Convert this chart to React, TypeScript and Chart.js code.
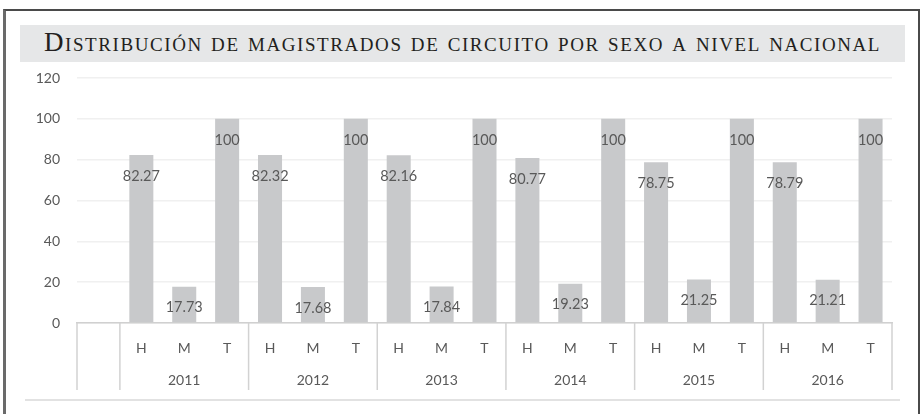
import React, { useEffect, useRef } from "react";
import { Chart, registerables } from "chart.js";

Chart.register(...registerables);

const title = "Distribución de magistrados de circuito por sexo a nivel nacional";
const years = ["2011", "2012", "2013", "2014", "2015", "2016"];
const sexes = ["H", "M", "T"];
const hombres = [82.27, 82.32, 82.16, 80.77, 78.75, 78.79];
const mujeres = [17.73, 17.68, 17.84, 19.23, 21.25, 21.21];
const total = [100, 100, 100, 100, 100, 100];
const yMin = 0;
const yMax = 120;
const yStep = 20;

const TEXT = "#595959";
const FONT = "Lato";

export default function App() {
  const ref = useRef<HTMLCanvasElement | null>(null);

  useEffect(() => {
    if (!ref.current) return;
    const labels: string[] = [""];
    const values: (number | null)[] = [null];
    years.forEach((_, i) => {
      sexes.forEach((s, j) => {
        labels.push(s);
        values.push(j === 0 ? hombres[i] : j === 1 ? mujeres[i] : total[i]);
      });
    });

    const groupPlugin = {
      id: "groups",
      afterDraw(chart: any) {
        const ctx = chart.ctx;
        const x = chart.scales.x;
        const area = chart.chartArea;
        const slot = x.getPixelForValue(1) - x.getPixelForValue(0);
        ctx.save();
        ctx.strokeStyle = "#d2d2d2";
        ctx.lineWidth = 1.5;
        const bounds: number[] = [x.getPixelForValue(0) - slot / 2];
        for (let i = 0; i <= years.length; i++) {
          bounds.push(x.getPixelForValue(3 * i) + slot / 2);
        }
        bounds.forEach((bx) => {
          ctx.beginPath();
          ctx.moveTo(bx, area.bottom);
          ctx.lineTo(bx, 390);
          ctx.stroke();
        });
        ctx.fillStyle = TEXT;
        ctx.font = `14px ${FONT}`;
        ctx.textAlign = "center";
        ctx.textBaseline = "middle";
        years.forEach((y, i) => {
          ctx.fillText(y, x.getPixelForValue(3 * i + 2), 380);
        });
        ctx.restore();
      },
    };

    const labelPlugin = {
      id: "barLabels",
      afterDatasetsDraw(chart: any) {
        const ctx = chart.ctx;
        const meta = chart.getDatasetMeta(0);
        ctx.save();
        ctx.fillStyle = TEXT;
        ctx.font = `14.5px ${FONT}`;
        ctx.textAlign = "center";
        ctx.textBaseline = "middle";
        meta.data.forEach((el: any, i: number) => {
          const v = chart.data.datasets[0].data[i];
          if (v == null) return;
          ctx.fillText(String(v), el.x, el.y + 21);
        });
        ctx.restore();
      },
    };

    const chart = new Chart(ref.current, {
      type: "bar",
      data: {
        labels,
        datasets: [
          {
            data: values,
            backgroundColor: "#c8c9cb",
            borderWidth: 0,
            categoryPercentage: 1,
            barPercentage: 0.56,
          },
        ],
      },
      options: {
        animation: false,
        responsive: false,
        devicePixelRatio: 1,
        layout: { padding: { left: 0, right: 29, top: 78, bottom: 14 } },
        plugins: {
          legend: { display: false },
          tooltip: { enabled: false },
          title: { display: false },
        },
        scales: {
          x: {
            grid: { display: false, drawTicks: false },
            border: { display: true, color: "#d0d0d0", width: 1.5 },
            ticks: {
              color: TEXT,
              font: { family: FONT, size: 14 },
              padding: 17,
              maxRotation: 0,
              autoSkip: false,
            },
            afterFit(s: any) {
              s.height = 77;
            },
          },
          y: {
            min: yMin,
            max: yMax,
            ticks: {
              stepSize: yStep,
              color: TEXT,
              font: { family: FONT, size: 14 },
              padding: 17,
            },
            grid: { color: "#f0f0f0", lineWidth: 1.5, drawTicks: false },
            border: { display: false },
            afterFit(s: any) {
              s.width = 77;
            },
          },
        },
      },
      plugins: [groupPlugin, labelPlugin],
    });
    return () => chart.destroy();
  }, []);

  return (
    <div style={{ position: "absolute", left: 0, top: 0, width: 921, height: 414, background: "#fff", overflow: "hidden" }}>
      <div
        style={{
          position: "absolute",
          left: 3,
          top: 9,
          width: 912,
          height: 420,
          borderTop: "2px solid #4a4a4a",
          borderLeft: "3px solid #6a6a6a",
          borderRight: "2px solid #4a4a4a",
        }}
      />
      <div
        style={{
          position: "absolute",
          left: 20,
          top: 25,
          width: 885,
          height: 37,
          background: "#e6e7e8",
        }}
      />
      <div
        style={{
          position: "absolute",
          left: 20,
          top: 24,
          width: 885,
          height: 37,
          lineHeight: "37px",
          textAlign: "center",
          fontFamily: "'Liberation Serif', serif",
          fontVariant: "small-caps",
          fontSize: 27,
          letterSpacing: 1.58,
          color: "#231f20",
          whiteSpace: "nowrap",
        }}
      >
        {title}
      </div>
      <div
        style={{
          position: "absolute",
          left: 25,
          top: 399,
          width: 875,
          height: 2,
          background: "#e2e2e2",
        }}
      />
      <canvas ref={ref} width={921} height={414} style={{ position: "absolute", left: 0, top: 0 }} />
    </div>
  );
}
